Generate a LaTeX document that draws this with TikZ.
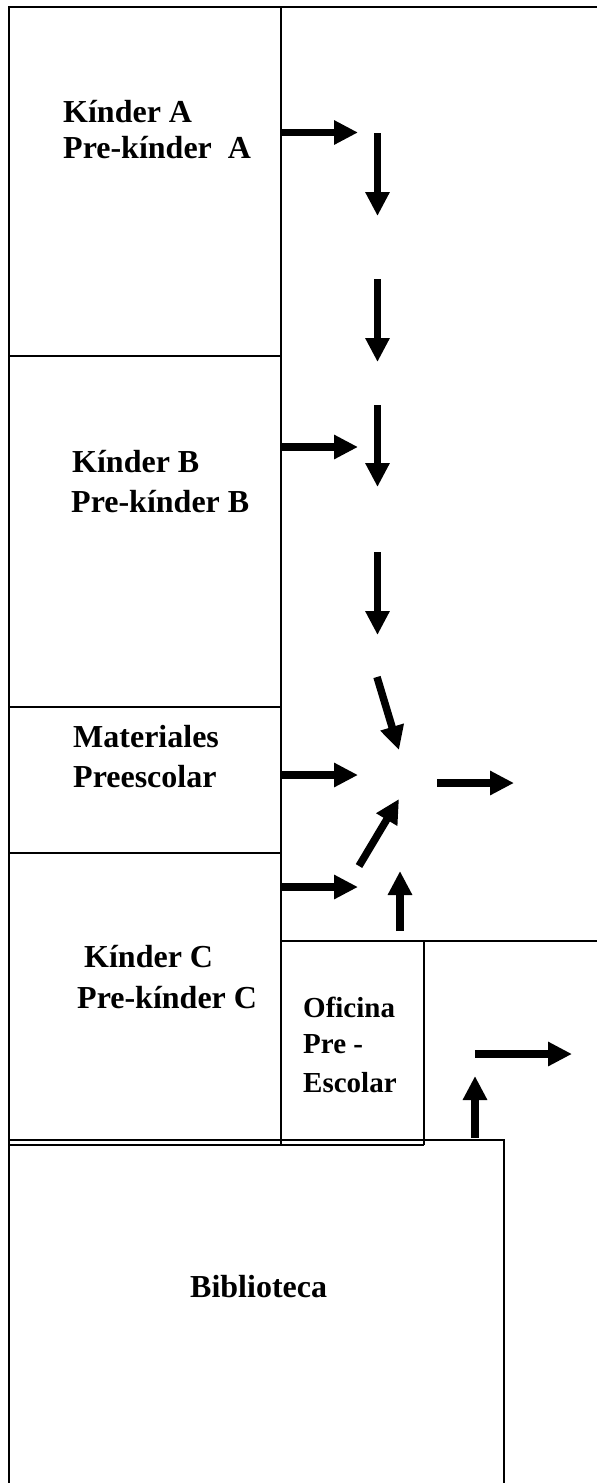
\documentclass[tikz,border=0pt]{standalone}
\usepackage{fontspec}
\setmainfont{Liberation Serif}
\usetikzlibrary{arrows.meta}
\tikzset{
 x=1pt,y=-1pt,
 wall/.style={draw=black,line width=1.8pt},
 room/.style={font=\bfseries\fontsize{32}{36}\selectfont,align=left,inner sep=0pt,anchor=base west},
 smallroom/.style={font=\bfseries\fontsize{29}{36}\selectfont,align=left,inner sep=0pt,anchor=base west},
 flow/.style={line width=7.5pt,-{Triangle[length=24pt,width=23pt]}},
}
\begin{document}
\begin{tikzpicture}
\useasboundingbox (0,0) rectangle (597,1483);
\fill[white] (0,0) rectangle (597,1483);
\coordinate (a1) at (281,132.5); \coordinate (a2) at (358,132.5);
\coordinate (b1) at (377.5,133); \coordinate (b2) at (377.5,216);
\coordinate (c1) at (377.5,279); \coordinate (c2) at (377.5,362);
\coordinate (d1) at (281,447); \coordinate (d2) at (358,447);
\coordinate (e1) at (377.5,405); \coordinate (e2) at (377.5,487);
\coordinate (f1) at (377.5,552); \coordinate (f2) at (377.5,635);
\coordinate (g1) at (377,677); \coordinate (g2) at (399,750);
\coordinate (h1) at (281,775); \coordinate (h2) at (358,775);
\coordinate (i1) at (437,783); \coordinate (i2) at (514,783);
\coordinate (j1) at (359,866); \coordinate (j2) at (399,799);
\coordinate (k1) at (281,887); \coordinate (k2) at (358,887);
\coordinate (l1) at (400,931); \coordinate (l2) at (400,871);
\coordinate (m1) at (475,1054); \coordinate (m2) at (572,1054);
\coordinate (n1) at (475,1138); \coordinate (n2) at (475,1076);
% walls
\draw[wall] (9,7) -- (9,1483);
\draw[wall] (8,7) -- (597,7);
\draw[wall] (281,7) -- (281,1145);
\draw[wall] (9,356) -- (281,356);
\draw[wall] (9,707) -- (281,707);
\draw[wall] (9,853) -- (281,853);
\draw[wall] (281,941) -- (597,941);
\draw[wall] (424,941) -- (424,1145);
\draw[wall] (9,1145) -- (424,1145);
\draw[wall] (9,1140) -- (504,1140) -- (504,1483);
% labels
\node[room] at (63,122) {K\'inder A};
\node[room] at (63,158) {Pre-k\'inder\ \ A};
\node[room] at (72,472) {K\'inder B};
\node[room] at (71,512) {Pre-k\'inder B};
\node[room] at (73,747) {Materiales};
\node[room] at (73,787) {Preescolar};
\node[room] at (84,967) {K\'inder C};
\node[room] at (77,1008) {Pre-k\'inder C};
\node[smallroom] at (303,1017) {Oficina};
\node[smallroom] at (303,1053) {Pre -};
\node[smallroom] at (303,1092) {Escolar};
\node[room] at (190,1297) {Biblioteca};
% arrows
\foreach \p/\q in {a1/a2,b1/b2,c1/c2,d1/d2,e1/e2,f1/f2,g1/g2,h1/h2,i1/i2,j1/j2,k1/k2,l1/l2,m1/m2,n1/n2}
  \draw[flow] (\p) -- (\q);
\end{tikzpicture}
\end{document}
